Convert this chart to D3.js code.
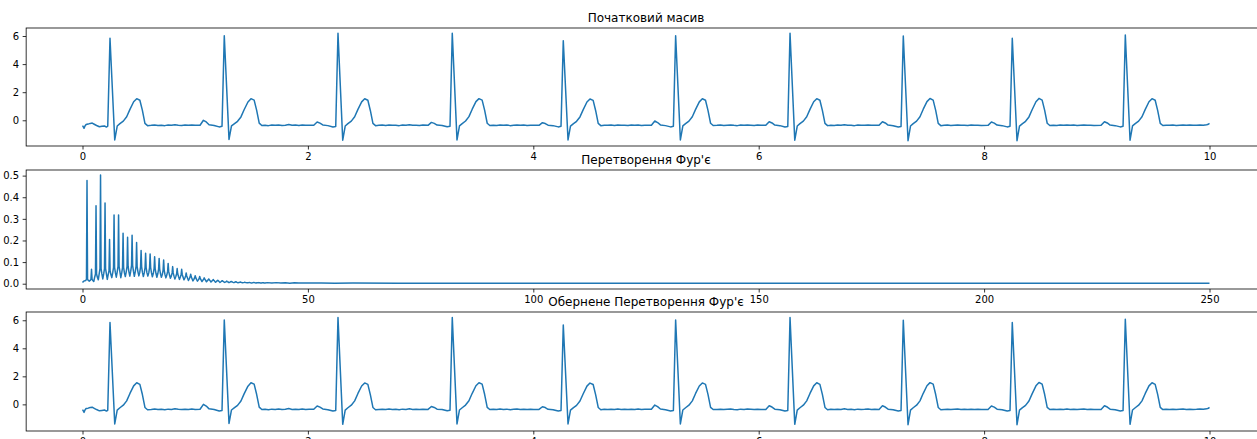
<!DOCTYPE html>
<html>
<head>
<meta charset="utf-8">
<script src="https://cdn.jsdelivr.net/npm/d3@7"></script>
<style>
  body { margin: 0; background: #fff; }
  svg { display: block; }
  text { font-family: "DejaVu Sans", sans-serif; }
</style>
</head>
<body>
<svg id="fig" width="1257" height="439"></svg>
<script>
// ECG trace, 10 s: [time (s), amplitude]
const ecgPoints = [
  [0.000,-0.38],[0.006,-0.45],[0.014,-0.57],[0.022,-0.40],[0.032,-0.30],[0.050,-0.27],[0.068,-0.22],[0.086,-0.20],[0.104,-0.28],[0.125,-0.37],[0.150,-0.46],[0.172,-0.43],[0.195,-0.40],[0.212,-0.48],[0.224,-0.42],
  [0.244,5.84],[0.286,-1.40],[0.308,-0.41],[0.332,-0.24],[0.362,-0.06],[0.392,0.25],[0.421,0.78],[0.454,1.32],[0.481,1.54],[0.509,1.43],[0.531,0.72],[0.554,-0.22],[0.577,-0.38],
  [0.61,-0.36],[0.64,-0.33],[0.67,-0.37],[0.70,-0.35],[0.73,-0.38],[0.76,-0.34],[0.79,-0.36],[0.82,-0.31],[0.85,-0.35],[0.88,-0.37],[0.91,-0.34],[0.94,-0.36],[0.97,-0.33],[1.00,-0.36],

  [1.043,-0.35],[1.073,0.00],[1.098,-0.12],[1.123,-0.32],[1.168,-0.37],[1.213,-0.47],[1.238,-0.43],
  [1.258,6.02],[1.300,-1.36],[1.322,-0.40],[1.346,-0.25],[1.376,-0.07],[1.406,0.24],[1.435,0.77],[1.468,1.30],[1.495,1.54],[1.523,1.44],[1.545,0.72],[1.568,-0.20],[1.591,-0.37],
  [1.62,-0.35],[1.65,-0.38],[1.68,-0.34],[1.71,-0.36],[1.74,-0.33],[1.77,-0.37],[1.80,-0.35],[1.83,-0.30],[1.86,-0.36],[1.89,-0.34],[1.92,-0.37],[1.95,-0.33],[1.98,-0.36],[2.01,-0.35],

  [2.052,-0.35],[2.082,-0.12],[2.107,-0.20],[2.132,-0.33],[2.177,-0.38],[2.222,-0.48],[2.247,-0.44],
  [2.267,6.19],[2.309,-1.42],[2.331,-0.41],[2.355,-0.24],[2.385,-0.06],[2.415,0.25],[2.444,0.78],[2.477,1.31],[2.504,1.53],[2.532,1.43],[2.554,0.70],[2.577,-0.22],[2.600,-0.38],
  [2.63,-0.36],[2.66,-0.34],[2.69,-0.37],[2.72,-0.33],[2.75,-0.36],[2.78,-0.35],[2.81,-0.38],[2.84,-0.34],[2.87,-0.36],[2.90,-0.32],[2.93,-0.36],[2.96,-0.35],[2.99,-0.37],[3.02,-0.34],

  [3.066,-0.36],[3.096,-0.15],[3.121,-0.22],[3.146,-0.34],[3.191,-0.37],[3.236,-0.46],[3.261,-0.42],
  [3.281,6.19],[3.323,-1.40],[3.345,-0.40],[3.369,-0.24],[3.399,-0.05],[3.429,0.26],[3.458,0.79],[3.491,1.33],[3.518,1.54],[3.546,1.44],[3.568,0.72],[3.591,-0.21],[3.614,-0.37],
  [3.645,-0.35],[3.675,-0.37],[3.705,-0.33],[3.735,-0.36],[3.765,-0.34],[3.795,-0.38],[3.825,-0.35],[3.855,-0.33],[3.885,-0.36],[3.915,-0.34],[3.945,-0.37],[3.975,-0.35],[4.005,-0.36],

  [4.051,-0.36],[4.081,-0.17],[4.106,-0.23],[4.131,-0.35],[4.176,-0.38],[4.221,-0.47],[4.246,-0.43],
  [4.266,5.67],[4.308,-1.40],[4.330,-0.41],[4.354,-0.25],[4.384,-0.07],[4.414,0.24],[4.443,0.76],[4.476,1.30],[4.503,1.52],[4.531,1.42],[4.553,0.70],[4.576,-0.22],[4.599,-0.38],
  [4.63,-0.35],[4.66,-0.36],[4.69,-0.34],[4.72,-0.37],[4.75,-0.33],[4.78,-0.36],[4.81,-0.35],[4.84,-0.37],[4.87,-0.34],[4.90,-0.36],[4.93,-0.33],[4.96,-0.37],[4.99,-0.35],

  [5.048,-0.35],[5.078,-0.05],[5.103,-0.16],[5.128,-0.33],[5.173,-0.38],[5.218,-0.47],[5.243,-0.43],
  [5.263,6.02],[5.305,-1.40],[5.327,-0.40],[5.351,-0.24],[5.381,-0.06],[5.411,0.25],[5.440,0.78],[5.473,1.31],[5.500,1.53],[5.528,1.43],[5.550,0.71],[5.573,-0.21],[5.596,-0.37],
  [5.63,-0.36],[5.66,-0.34],[5.69,-0.37],[5.72,-0.35],[5.75,-0.33],[5.78,-0.36],[5.81,-0.38],[5.84,-0.34],[5.87,-0.36],[5.90,-0.33],[5.93,-0.35],[5.96,-0.37],[5.99,-0.34],[6.02,-0.36],

  [6.063,-0.36],[6.093,-0.10],[6.118,-0.19],[6.143,-0.34],[6.188,-0.38],[6.233,-0.48],[6.258,-0.44],
  [6.278,6.19],[6.320,-1.42],[6.342,-0.41],[6.366,-0.24],[6.396,-0.06],[6.426,0.25],[6.455,0.78],[6.488,1.32],[6.515,1.54],[6.543,1.43],[6.565,0.71],[6.588,-0.22],[6.611,-0.38],
  [6.64,-0.35],[6.67,-0.37],[6.70,-0.34],[6.73,-0.36],[6.76,-0.32],[6.79,-0.36],[6.82,-0.35],[6.85,-0.38],[6.88,-0.34],[6.91,-0.36],[6.94,-0.35],[6.97,-0.33],[7.00,-0.36],[7.03,-0.35],

  [7.068,-0.36],[7.098,-0.10],[7.123,-0.19],[7.148,-0.34],[7.193,-0.39],[7.238,-0.48],[7.263,-0.44],
  [7.283,6.00],[7.325,-1.45],[7.347,-0.41],[7.371,-0.24],[7.401,-0.06],[7.431,0.25],[7.460,0.79],[7.493,1.33],[7.520,1.55],[7.548,1.44],[7.570,0.72],[7.593,-0.22],[7.616,-0.38],
  [7.645,-0.36],[7.675,-0.34],[7.705,-0.37],[7.735,-0.35],[7.765,-0.33],[7.795,-0.36],[7.825,-0.35],[7.855,-0.37],[7.885,-0.34],[7.915,-0.36],[7.945,-0.35],[7.975,-0.37],

  [8.035,-0.36],[8.065,-0.12],[8.090,-0.20],[8.115,-0.34],[8.160,-0.38],[8.205,-0.47],[8.230,-0.43],
  [8.250,5.84],[8.292,-1.45],[8.314,-0.41],[8.338,-0.25],[8.368,-0.07],[8.398,0.24],[8.427,0.77],[8.460,1.32],[8.487,1.56],[8.515,1.44],[8.537,0.72],[8.560,-0.21],[8.583,-0.37],
  [8.615,-0.35],[8.645,-0.37],[8.675,-0.34],[8.705,-0.36],[8.735,-0.33],[8.765,-0.36],[8.795,-0.34],[8.825,-0.37],[8.855,-0.35],[8.885,-0.33],[8.915,-0.36],[8.945,-0.35],[8.975,-0.37],

  [9.038,-0.36],[9.068,-0.10],[9.093,-0.19],[9.118,-0.34],[9.163,-0.38],[9.208,-0.47],[9.233,-0.43],
  [9.253,6.07],[9.295,-1.42],[9.317,-0.40],[9.341,-0.24],[9.371,-0.06],[9.401,0.25],[9.430,0.78],[9.463,1.32],[9.490,1.54],[9.518,1.43],[9.540,0.71],[9.563,-0.22],[9.586,-0.37],
  [9.615,-0.35],[9.645,-0.36],[9.675,-0.34],[9.705,-0.37],[9.735,-0.35],[9.765,-0.33],[9.795,-0.36],[9.825,-0.34],[9.855,-0.36],[9.885,-0.35],[9.915,-0.33],[9.945,-0.35],[9.975,-0.32],[9.990,-0.28],[10.000,-0.22]
];

// Magnitude spectrum: harmonics of the ~1 Hz heart rhythm
const harmonicHz       = [1,2,3,4,5,6,7,8,9,10,11,12,13,14,15,16,17,18,19,20,21,22,23,24,25,26,27,28,29,30,31,32,33,34,35,36,37,38,39,40];
const harmonicPeak     = [0.477,0.067,0.361,0.503,0.373,0.204,0.318,0.318,0.233,0.215,0.224,0.191,0.154,0.141,0.137,0.125,0.117,0.110,0.094,0.079,0.070,0.067,0.050,0.044,0.037,0.033,0.027,0.022,0.019,0.016,0.014,0.012,0.010,0.009,0.008,0.007,0.006,0.005,0.005,0.004];
// magnitude next to each harmonic (±0.12 Hz)
const harmonicShoulder = [0.020,0.020,0.045,0.070,0.070,0.060,0.075,0.080,0.075,0.080,0.085,0.080,0.078,0.075,0.075,0.070,0.068,0.063,0.057,0.050,0.046,0.043,0.036,0.032,0.028,0.024,0.021,0.018,0.016,0.014,0.012,0.010,0.009,0.008,0.007,0.006,0.005,0.005,0.004,0.004];
// magnitude at ±0.3 Hz from each harmonic
const harmonicBase     = [0.015,0.015,0.030,0.045,0.045,0.042,0.050,0.055,0.050,0.055,0.058,0.055,0.052,0.050,0.050,0.047,0.046,0.042,0.040,0.035,0.033,0.031,0.026,0.023,0.020,0.018,0.016,0.014,0.012,0.010,0.009,0.008,0.007,0.006,0.006,0.005,0.004,0.004,0.004,0.003];
// minimum half way to the next harmonic
const harmonicTrough   = [0.012,0.010,0.018,0.022,0.020,0.028,0.030,0.028,0.033,0.035,0.034,0.036,0.033,0.035,0.032,0.030,0.030,0.027,0.025,0.022,0.020,0.018,0.015,0.013,0.012,0.010,0.009,0.008,0.007,0.006,0.006,0.005,0.005,0.004,0.004,0.004,0.003,0.003,0.003,0.003];
const spectrumHeadHz  = [0, 0.3];
const spectrumHeadAmp = [0.005, 0.012];
const spectrumTailHz  = [41, 42, 43, 44, 45, 46, 47, 48, 50, 53, 56, 60, 70, 80, 100, 130, 160, 200, 250];
const spectrumTailAmp = [0.005, 0.003, 0.005, 0.003, 0.004, 0.002, 0.004, 0.003, 0.003, 0.003, 0.002, 0.003, 0.002, 0.002, 0.002, 0.002, 0.002, 0.002, 0.002];

// Axis ticks
const timeTicks = [0, 2, 4, 6, 8, 10];
const voltTicks = [0, 2, 4, 6];
const freqTicks = [0, 50, 100, 150, 200, 250];
const ampTicks  = [0.0, 0.1, 0.2, 0.3, 0.4, 0.5];
const panelTitles = ["Початковий масив", "Перетворення Фур'є", "Обернене Перетворення Фур'є"];

// Build the spectrum polyline from the listed magnitudes
const spectrumPoints = [];
spectrumHeadHz.forEach((f, i) => spectrumPoints.push([f, spectrumHeadAmp[i]]));
harmonicHz.forEach((f, i) => {
  spectrumPoints.push([f - 0.3, harmonicBase[i]]);
  spectrumPoints.push([f - 0.12, harmonicShoulder[i]]);
  spectrumPoints.push([f, harmonicPeak[i]]);
  spectrumPoints.push([f + 0.12, harmonicShoulder[i]]);
  spectrumPoints.push([f + 0.3, harmonicBase[i]]);
  spectrumPoints.push([f + 0.5, harmonicTrough[i]]);
});
spectrumTailHz.forEach((f, i) => spectrumPoints.push([f, spectrumTailAmp[i]]));

// The inverse transform returns the original samples
const restoredPoints = ecgPoints.map(p => [p[0], p[1]]);

const svg = d3.select("#fig");
const LINE = "#1f77b4";

function panel(id, cfg) {
  const x = d3.scaleLinear().domain(cfg.xDomain).range([cfg.left, cfg.right]);
  const y = d3.scaleLinear().domain(cfg.yDomain).range([cfg.bottom, cfg.top]);
  const g = svg.append("g");

  g.append("clipPath").attr("id", "clip" + id)
    .append("rect")
    .attr("x", cfg.left).attr("y", cfg.top)
    .attr("width", cfg.right - cfg.left).attr("height", cfg.bottom - cfg.top);

  g.append("path")
    .datum(cfg.points)
    .attr("clip-path", `url(#clip${id})`)
    .attr("fill", "none")
    .attr("stroke", LINE)
    .attr("stroke-width", 1.5)
    .attr("stroke-linejoin", "round")
    .attr("d", d3.line().x(d => x(d[0])).y(d => y(d[1])));

  const xAxis = g.append("g")
    .attr("transform", `translate(0,${cfg.bottom})`)
    .call(d3.axisBottom(x).tickValues(cfg.xTicks).tickSize(3.5).tickPadding(3.5).tickFormat(cfg.xFormat));
  const yAxis = g.append("g")
    .attr("transform", `translate(${cfg.left},0)`)
    .call(d3.axisLeft(y).tickValues(cfg.yTicks).tickSize(3.5).tickPadding(3.5).tickFormat(cfg.yFormat));

  [xAxis, yAxis].forEach(a => {
    a.select(".domain").remove();
    a.selectAll(".tick line").attr("stroke", "#000").attr("stroke-width", 0.8);
    a.selectAll(".tick text").attr("fill", "#000").attr("font-size", 10)
      .attr("font-family", "DejaVu Sans, sans-serif");
  });

  // axes frame
  g.append("rect")
    .attr("x", cfg.left).attr("y", cfg.top)
    .attr("width", cfg.right - cfg.left).attr("height", cfg.bottom - cfg.top)
    .attr("fill", "none").attr("stroke", "#000").attr("stroke-width", 0.8);

  g.append("text")
    .attr("x", (cfg.left + cfg.right) / 2)
    .attr("y", cfg.top - 6)
    .attr("text-anchor", "middle")
    .attr("font-size", 12)
    .attr("fill", "#000")
    .text(cfg.title);
}

const intFmt = d3.format("d");
const amp1 = d3.format(".1f");

panel(0, {
  left: 26.15, right: 1265.85, top: 28, bottom: 146,
  xDomain: [-0.5, 10.5], yDomain: [-1.83, 6.57],
  points: ecgPoints, xTicks: timeTicks, yTicks: voltTicks,
  xFormat: intFmt, yFormat: intFmt, title: panelTitles[0]
});

panel(1, {
  left: 26.15, right: 1265.85, top: 170, bottom: 289,
  xDomain: [-12.5, 262.5], yDomain: [-0.0245, 0.526],
  points: spectrumPoints, xTicks: freqTicks, yTicks: ampTicks,
  xFormat: intFmt, yFormat: amp1, title: panelTitles[1]
});

panel(2, {
  left: 26.15, right: 1265.85, top: 312, bottom: 431,
  xDomain: [-0.5, 10.5], yDomain: [-1.90, 6.59],
  points: restoredPoints, xTicks: timeTicks, yTicks: voltTicks,
  xFormat: intFmt, yFormat: intFmt, title: panelTitles[2]
});
</script>
</body>
</html>
